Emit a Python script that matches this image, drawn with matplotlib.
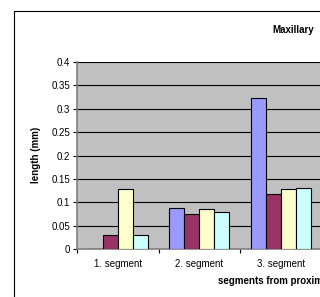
import matplotlib.pyplot as plt
import matplotlib.patches as mpatches
import numpy as np

plt.rcParams['font.family'] = ['Liberation Sans', 'DejaVu Sans']

# data (chart is cropped at the right edge)
categories = ['1. segment', '2. segment', '3. segment']
series_a = [0.0, 0.088, 0.322]
series_b = [0.030, 0.075, 0.118]
series_c = [0.128, 0.086, 0.129]
series_d = [0.029, 0.079, 0.131]
yticks = [0, 0.05, 0.1, 0.15, 0.2, 0.25, 0.3, 0.35, 0.4]
ytick_labels = ['0', '0.05', '0.1', '0.15', '0.2', '0.25', '0.3', '0.35', '0.4']

colors = ['#9999FF', '#993366', '#FFFFCC', '#CCFFFF']

W, H = 320, 297
fig = plt.figure(figsize=(W / 100, H / 100), dpi=100)
fig.patch.set_facecolor('white')

# outer chart frame (runs off the right/bottom edge)
fig.patches.append(mpatches.Rectangle((14 / W, 1 - 400 / H), 400 / W, (400 - 11) / H,
                                      transform=fig.transFigure, fill=False,
                                      edgecolor='#000000', linewidth=0.8))

# plot area: x from 77 px, 4 category slots of 81.5 px, y from 62 to 249 px
left, top, bottom = 77, 62, 249
cat_w = 81.5
ax = fig.add_axes([left / W, 1 - bottom / H, 4 * cat_w / W, (bottom - top) / H])
ax.set_facecolor('#C0C0C0')

x = np.arange(len(categories))
w = 15 / cat_w
for i, (vals, c) in enumerate(zip([series_a, series_b, series_c, series_d], colors)):
    ax.bar(x + (i - 1.5) * w, vals, width=w, color=c, edgecolor='black',
           linewidth=0.8, zorder=3)

ax.set_xlim(-0.5, 3.5)
ax.set_ylim(0, 0.4)
ax.set_yticks(yticks)
ax.set_yticklabels(ytick_labels)
ax.yaxis.grid(True, color='black', linewidth=0.8, zorder=1)
ax.set_axisbelow(True)

ax.set_xticks([-0.5, 0.5, 1.5, 2.5, 3.5])
ax.set_xticklabels([])
ax.set_xticks(x, minor=True)
ax.set_xticklabels(categories, minor=True)
ax.tick_params(axis='x', which='minor', length=0, labelsize=7, pad=7)
ax.tick_params(axis='x', which='major', length=3, width=0.8, direction='out')
ax.tick_params(axis='y', length=3, width=0.8, direction='out', labelsize=7, pad=2)

for s in ['top', 'right']:
    ax.spines[s].set_visible(False)
ax.spines['left'].set_color('#808080')
ax.spines['left'].set_linewidth(1.2)
ax.spines['bottom'].set_color('#808080')
ax.spines['bottom'].set_linewidth(1.2)

fig.text(272 / W, 1 - 30 / H, 'Maxillary', fontsize=7, fontweight='bold',
         ha='left', va='center')
fig.text(36 / W, 1 - 155 / H, 'length (mm)', fontsize=7, fontweight='bold',
         rotation=90, ha='center', va='center')
fig.text(218 / W, 1 - 281 / H, 'segments from proximal to distal', fontsize=7,
         fontweight='bold', ha='left', va='center')

fig.savefig('out.png', dpi=100)
